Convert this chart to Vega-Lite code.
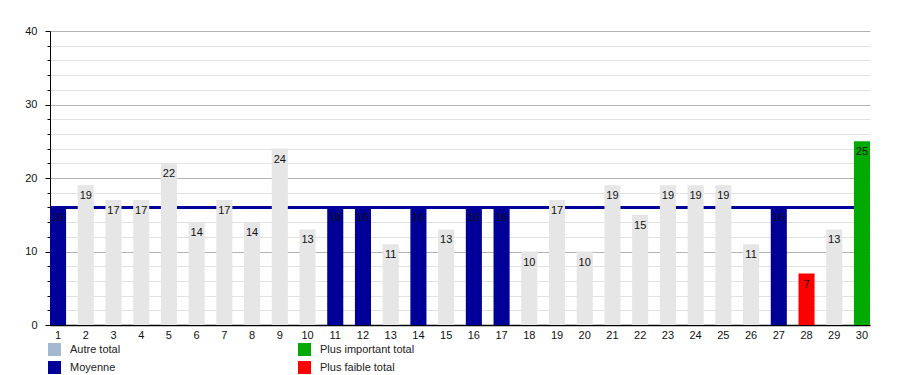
{
  "$schema": "https://vega.github.io/schema/vega-lite/v6.json",
  "width": 820,
  "height": 294,
  "autosize": "none",
  "padding": {"left": 50, "top": 31, "right": 30, "bottom": 50},
  "background": "white",
  "config": {
    "font": "Liberation Sans",
    "view": {"stroke": null},
    "axis": {"labelFont": "Liberation Sans", "labelFontSize": 11, "labelColor": "#111"},
    "legend": {"labelFont": "Liberation Sans"}
  },
  "datasets": {
    "barres": [
      {"jour": 1, "total": 16, "type": "Moyenne"},
      {"jour": 2, "total": 19, "type": "Autre total"},
      {"jour": 3, "total": 17, "type": "Autre total"},
      {"jour": 4, "total": 17, "type": "Autre total"},
      {"jour": 5, "total": 22, "type": "Autre total"},
      {"jour": 6, "total": 14, "type": "Autre total"},
      {"jour": 7, "total": 17, "type": "Autre total"},
      {"jour": 8, "total": 14, "type": "Autre total"},
      {"jour": 9, "total": 24, "type": "Autre total"},
      {"jour": 10, "total": 13, "type": "Autre total"},
      {"jour": 11, "total": 16, "type": "Moyenne"},
      {"jour": 12, "total": 16, "type": "Moyenne"},
      {"jour": 13, "total": 11, "type": "Autre total"},
      {"jour": 14, "total": 16, "type": "Moyenne"},
      {"jour": 15, "total": 13, "type": "Autre total"},
      {"jour": 16, "total": 16, "type": "Moyenne"},
      {"jour": 17, "total": 16, "type": "Moyenne"},
      {"jour": 18, "total": 10, "type": "Autre total"},
      {"jour": 19, "total": 17, "type": "Autre total"},
      {"jour": 20, "total": 10, "type": "Autre total"},
      {"jour": 21, "total": 19, "type": "Autre total"},
      {"jour": 22, "total": 15, "type": "Autre total"},
      {"jour": 23, "total": 19, "type": "Autre total"},
      {"jour": 24, "total": 19, "type": "Autre total"},
      {"jour": 25, "total": 19, "type": "Autre total"},
      {"jour": 26, "total": 11, "type": "Autre total"},
      {"jour": 27, "total": 16, "type": "Moyenne"},
      {"jour": 28, "total": 7, "type": "Plus faible total"},
      {"jour": 29, "total": 13, "type": "Autre total"},
      {"jour": 30, "total": 25, "type": "Plus important total"}
    ],
    "moyenne": [{"moyenne": 16}]
  },
  "layer": [
    {
      "data": {"name": "moyenne"},
      "mark": {"type": "rule", "color": "#000099", "strokeWidth": 3},
      "encoding": {
        "y": {
          "field": "moyenne", "type": "quantitative",
          "scale": {"domain": [0, 40], "nice": false},
          "axis": {
            "orient": "left", "values": [2,4,6,8,12,14,16,18,22,24,26,28,32,34,36,38],
            "grid": true, "gridColor": "#e2e2e2", "gridWidth": 1,
            "labels": false, "domain": false, "tickSize": 3, "tickColor": "#000", "title": null
          }
        }
      }
    },
    {
      "data": {"name": "barres"},
      "mark": {"type": "bar"},
      "encoding": {
        "x": {
          "field": "jour", "type": "ordinal",
          "scale": {"paddingInner": 0.42, "paddingOuter": 0},
          "axis": {"labelAngle": 0, "ticks": false, "domainColor": "#000", "domainWidth": 1.5, "labelPadding": 4, "title": null, "grid": false}
        },
        "y": {
          "field": "total", "type": "quantitative",
          "scale": {"domain": [0, 40], "nice": false},
          "axis": {
            "orient": "left", "values": [0, 10, 20, 30, 40],
            "grid": true, "gridColor": "#b4b4b4", "gridWidth": 1,
            "domainColor": "#000", "tickColor": "#000", "tickSize": 5, "labelPadding": 8, "title": null
          }
        },
        "fill": {
          "condition": {"test": "datum.type === 'Autre total'", "value": "#e6e6e6"},
          "field": "type", "type": "nominal",
          "scale": {
            "domain": ["Autre total", "Moyenne", "Plus important total", "Plus faible total"],
            "range": ["#a4b8cf", "#000099", "#00aa00", "#ff0000"]
          },
          "legend": {
            "orient": "none", "legendX": -2, "legendY": 312, "columns": 2, "columnPadding": 177,
            "rowPadding": 5, "symbolType": "square", "symbolSize": 169, "symbolStrokeWidth": 0,
            "symbolOpacity": 1,
            "labelFontSize": 11, "labelColor": "#222", "labelOffset": 9, "title": null
          }
        }
      }
    },
    {
      "data": {"name": "barres"},
      "mark": {"type": "text", "dy": 11, "baseline": "middle", "fontSize": 11, "color": "#111"},
      "encoding": {
        "x": {"field": "jour", "type": "ordinal"},
        "y": {"field": "total", "type": "quantitative", "axis": null},
        "text": {"field": "total", "type": "quantitative"}
      }
    }
  ],
  "resolve": {"axis": {"y": "independent"}}
}
